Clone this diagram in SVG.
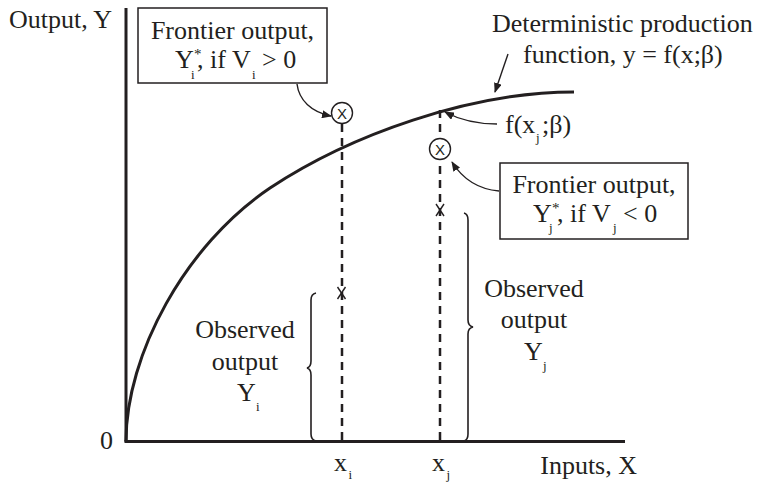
<svg xmlns="http://www.w3.org/2000/svg" width="760" height="483" viewBox="0 0 760 483">
<style>
text{font-family:"Liberation Serif","Times New Roman",serif;font-size:26px;fill:#231f20}
.sub{font-size:13px}
.sup{font-size:15px}
.box{fill:#fff;stroke:#231f20;stroke-width:1.5}
.axis{stroke:#231f20;stroke-width:3;fill:none}
.curve{stroke:#231f20;stroke-width:3;fill:none}
.dash{stroke:#231f20;stroke-width:2.5;stroke-dasharray:8 6;fill:none}
.brace{stroke:#231f20;stroke-width:1.6;fill:none}
.arr{stroke:#231f20;stroke-width:1.4;fill:none;marker-end:url(#ah)}
.circ{fill:#fff;stroke:#231f20;stroke-width:1.4}
.cx{font-family:"Liberation Sans",Arial,sans-serif;font-size:15px;text-anchor:middle}
.obs{stroke:#231f20;stroke-width:1.4}
.mid{text-anchor:middle}
</style>
<defs>
<marker id="ah" viewBox="0 0 10 8" refX="9" refY="4" markerWidth="10" markerHeight="8" orient="auto" markerUnits="userSpaceOnUse"><path d="M0,0 L10,4 L0,8 z" fill="#231f20"/></marker>
</defs>
<g id="axes">
<line class="axis" x1="126" y1="8" x2="126" y2="442"/>
<line class="axis" x1="124.5" y1="441.5" x2="625" y2="441.5"/>
<text x="9" y="28">Output, Y</text>
<text x="637" y="474" style="text-anchor:end">Inputs, X</text>
<text x="100" y="449">0</text>
<text y="471"><tspan x="334">x</tspan><tspan class="sub" x="348.5" y="479">i</tspan></text>
<text y="471"><tspan x="432">x</tspan><tspan class="sub" x="446.5" y="479">j</tspan></text>
</g>
<g id="production-function">
<path class="curve" d="M126,441 C126,355 185,245 270,188 C350,135 470,92 574,92"/>
</g>
<g id="obs-i">
<line class="dash" x1="342" y1="124" x2="342" y2="441"/>
<line class="obs" x1="337.5" y1="287" x2="345.5" y2="299"/>
<line class="obs" x1="345.5" y1="287" x2="337.5" y2="299"/>
<circle class="circ" cx="342" cy="113" r="10.5"/>
<text class="cx" x="342" y="118.5">X</text>
</g>
<g id="obs-j">
<line class="dash" x1="440" y1="110" x2="440" y2="441"/>
<line class="obs" x1="436" y1="204" x2="444" y2="216"/>
<line class="obs" x1="444" y1="204" x2="436" y2="216"/>
<circle class="circ" cx="440" cy="149" r="10.5"/>
<text class="cx" x="440" y="154.5">X</text>
</g>
<g id="box-i">
<rect class="box" x="138" y="8" width="189" height="75"/>
<text x="232.5" y="39" class="mid">Frontier output,</text>
<text y="68"><tspan x="175">Y</tspan><tspan class="sup" x="194" y="59">*</tspan><tspan class="sub" x="191" y="79">i</tspan><tspan x="197" y="68">, if V</tspan><tspan class="sub" x="252" y="79">i</tspan><tspan x="262" y="68">&gt; 0</tspan></text>
</g>
<g id="box-j">
<rect class="box" x="500" y="163" width="188" height="76"/>
<text x="594" y="193" class="mid">Frontier output,</text>
<text y="222"><tspan x="533">Y</tspan><tspan class="sup" x="552" y="213">*</tspan><tspan class="sub" x="549" y="232">j</tspan><tspan x="557" y="222">, if V</tspan><tspan class="sub" x="613" y="232">j</tspan><tspan x="623" y="222">&lt; 0</tspan></text>
</g>
<g id="label-function">
<text x="492" y="32">Deterministic production</text>
<text x="523" y="63">function, y = f(x;β)</text>
</g>
<g id="label-fxj">
<text y="133"><tspan x="505">f(x</tspan><tspan class="sub" x="536" y="142">j</tspan><tspan x="542" y="133">;β)</tspan></text>
</g>
<g id="label-obs-i">
<path class="brace" d="M316,293 Q311,294 311,300 L311,361 Q311,367 307,368 Q311,369 311,375 L311,434 Q311,440 316,441"/>
<text x="245" y="338" class="mid">Observed</text>
<text x="245" y="370" class="mid">output</text>
<text y="401"><tspan x="237">Y</tspan><tspan class="sub" x="256" y="411">i</tspan></text>
</g>
<g id="label-obs-j">
<path class="brace" d="M464,213 Q468,214 468,220 L468,320 Q468,326 473,327 Q468,328 468,334 L468,434 Q468,440 464,441"/>
<text x="534" y="297" class="mid">Observed</text>
<text x="534" y="328" class="mid">output</text>
<text y="360"><tspan x="524">Y</tspan><tspan class="sub" x="543" y="370">j</tspan></text>
</g>
<g id="connectors">
<path class="arr" d="M297,84 C299,100 311,112 331,116"/>
<path class="arr" d="M499,191 C476,189 462,178 452,162"/>
<path class="arr" d="M508,54 L495,92"/>
<path class="arr" d="M497,124 C476,124 460,120 445,112"/>
</g>
</svg>
